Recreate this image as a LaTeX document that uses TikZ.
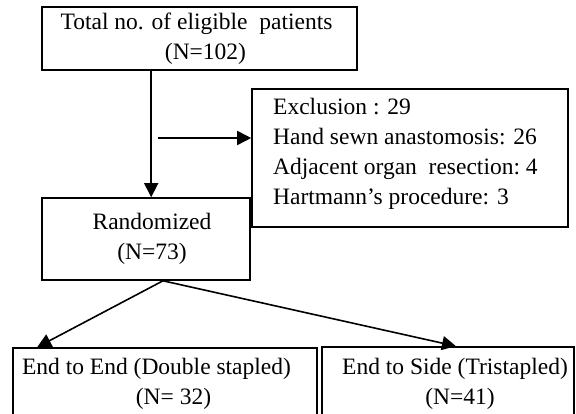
\documentclass[tikz,border=0pt]{standalone}
\usepackage{fontspec}
\setmainfont{Liberation Serif}
\usetikzlibrary{arrows.meta,calc}
\begin{document}
\begin{tikzpicture}[x=1pt,y=-1pt,
  box/.style={draw, line width=1.6pt, inner sep=0pt, align=center,
    font=\fontsize{23.5}{30}\selectfont},
  arr/.style={line width=1.6pt, -{Triangle[length=14pt,width=14pt]}},
  txt/.style={inner sep=0pt, align=left, font=\fontsize{23.5}{30}\selectfont}]
\useasboundingbox (0,0) rectangle (576,414);
\clip (0,0) rectangle (576,414);
\node[box, minimum width=315pt, minimum height=63pt] (total) at (199.5,38.5)
  {Total no. of eligible\ \ patients\hspace*{6pt}\\\hspace*{12pt}(N=102)};
\node[box, minimum width=316pt, minimum height=138pt] (excl) at (410,158) {};
\node[txt, anchor=north west] (excltxt) at (273,98)
  {Exclusion : 29\\Hand sewn anastomosis: 26\\Adjacent organ\ \ resection:\ 4\\Hartmann's\ procedure: 3};
\node[box, minimum width=208pt, minimum height=82pt] (rand) at (146,239)
  {\hspace*{12pt}Randomized\\\hspace*{12pt}(N=73)};
\node[box, minimum width=304pt, minimum height=72pt] (ee) at (165,384)
  {End to End (Double stapled)\hspace*{17pt}\\\hspace*{17pt}(N= 32)};
\node[box, minimum width=252pt, minimum height=74pt] (es) at (448,384)
  {\hspace*{14pt}End to Side (Tristapled)\\\hspace*{24pt}(N=41)};
\coordinate (vtop) at ($(total.south west)+(110,0)$);
\coordinate (hstart) at (158,138);
\coordinate (rsplit) at ($(rand.south)+(17,0)$);
\draw[arr] (vtop) -- (vtop |- rand.north);
\draw[arr] (hstart) -- (hstart -| excl.west);
\draw[arr] (rsplit) -- ($(ee.north west)+(25,0)$);
\draw[arr] (rsplit) -- ($(es.north)+(8,0)$);
\end{tikzpicture}
\end{document}
